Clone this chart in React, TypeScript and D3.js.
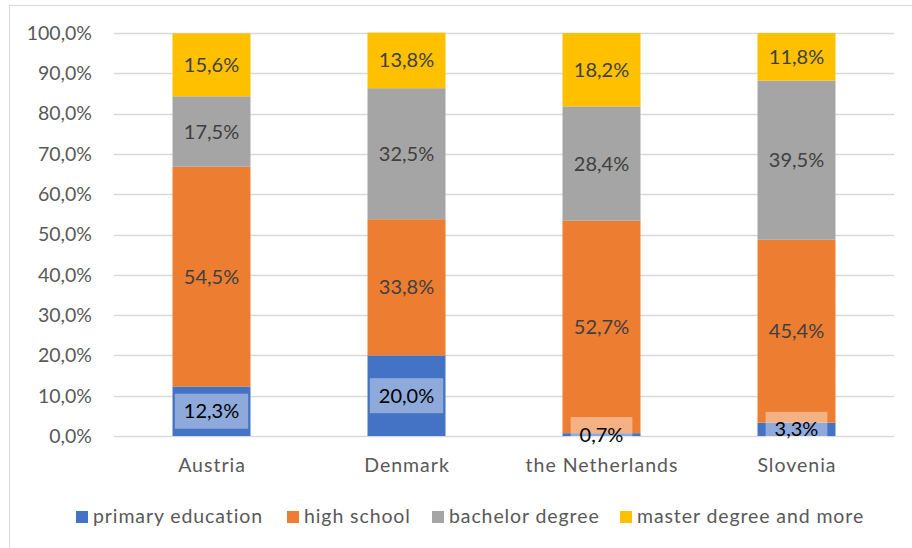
import React, { useEffect, useRef } from "react";
import * as d3 from "d3";

const categories = ["Austria", "Denmark", "the Netherlands", "Slovenia"];
const seriesNames = ["primary education", "high school", "bachelor degree", "master degree and more"];
const primary = [12.3, 20.0, 0.7, 3.3];
const highSchool = [54.5, 33.8, 52.7, 45.4];
const bachelor = [17.5, 32.5, 28.4, 39.5];
const master = [15.6, 13.8, 18.2, 11.8];
const colors = ["#4472C4", "#ED7D31", "#A5A5A5", "#FFC000"];
const yTicks = [0, 10, 20, 30, 40, 50, 60, 70, 80, 90, 100];

const W = 912;
const H = 548;
const FONT = "Lato, 'Open Sans', sans-serif";
const fmt = (v: number) => v.toFixed(1).replace(".", ",") + "%";

export default function App() {
  const ref = useRef<SVGSVGElement>(null);

  useEffect(() => {
    const svg = d3.select(ref.current);
    svg.selectAll("*").remove();

    const seriesData = [primary, highSchool, bachelor, master];
    const rows = categories.map((c, i) => {
      const r: any = { cat: c };
      seriesNames.forEach((s, j) => (r[s] = seriesData[j][i]));
      return r;
    });
    const stacked = d3.stack<any>().keys(seriesNames)(rows);

    const x = d3.scaleBand().domain(categories).range([114, 894]).paddingInner(0.6).paddingOuter(0.3);
    const y = d3.scaleLinear().domain([0, 100]).range([436, 33]);

    svg.append("rect").attr("x", 9.5).attr("y", 5.5).attr("width", 930).attr("height", 600)
      .attr("fill", "white").attr("stroke", "#d9d9d9").attr("stroke-width", 1);

    const g = svg.append("g");
    // gridlines
    g.selectAll("line.grid").data(yTicks).join("line")
      .attr("x1", 114).attr("x2", 894)
      .attr("y1", (d) => Math.round(y(d)) + 0.5).attr("y2", (d) => Math.round(y(d)) + 0.5)
      .attr("stroke", "#d9d9d9").attr("stroke-width", 1.3);

    g.selectAll("text.ytick").data(yTicks).join("text")
      .attr("x", 92).attr("y", (d) => y(d)).attr("dy", "0.35em")
      .attr("text-anchor", "end").attr("fill", "#595959")
      .style("font", `19.5px ${FONT}`).text((d) => d.toFixed(1).replace(".", ",") + "%");

    // bars
    stacked.forEach((layer, j) => {
      g.selectAll(`rect.s${j}`).data(layer).join("rect")
        .attr("x", (d: any) => x(d.data.cat)!)
        .attr("width", x.bandwidth())
        .attr("y", (d: any) => y(d[1]))
        .attr("height", (d: any) => y(d[0]) - y(d[1]))
        .attr("fill", colors[j]);
    });

    // labels
    stacked.forEach((layer, j) => {
      layer.forEach((d: any) => {
        const cx = x(d.data.cat)! + x.bandwidth() / 2;
        const cy = (y(d[0]) + y(d[1])) / 2;
        const val = d[1] - d[0];
        const t = g.append("text").attr("x", cx).attr("y", cy).attr("dy", "0.35em")
          .attr("text-anchor", "middle")
          .attr("fill", j === 0 ? "#000000" : "#404040")
          .style("font", `20px ${FONT}`).text(fmt(val));
        if (j === 0) {
          const bb = (t.node() as SVGTextElement).getBBox();
          g.insert("rect", () => t.node())
            .attr("x", cx - bb.width / 2 - 9).attr("y", cy - 17.5)
            .attr("width", bb.width + 18).attr("height", 35)
            .attr("fill", "white").attr("fill-opacity", 0.4);
        }
      });
    });

    // category labels
    g.selectAll("text.cat").data(categories).join("text")
      .attr("x", (d) => x(d)! + x.bandwidth() / 2 + 0.5).attr("y", 472)
      .attr("text-anchor", "middle").attr("fill", "#595959")
      .style("font", `19.5px ${FONT}`).style("letter-spacing", "1px").text((d) => d);

    // legend
    const legendX = [76, 287, 432, 620];
    seriesNames.forEach((s, j) => {
      g.append("rect").attr("x", legendX[j]).attr("y", 511).attr("width", 12).attr("height", 12).attr("fill", colors[j]);
      g.append("text").attr("x", legendX[j] + 17).attr("y", 523).attr("fill", "#595959")
        .style("font", `19.5px ${FONT}`).style("letter-spacing", "0.9px").text(s);
    });
  }, []);

  return (
    <svg ref={ref} width={W} height={H} style={{ position: "absolute", left: 0, top: 0, display: "block" }} />
  );
}
